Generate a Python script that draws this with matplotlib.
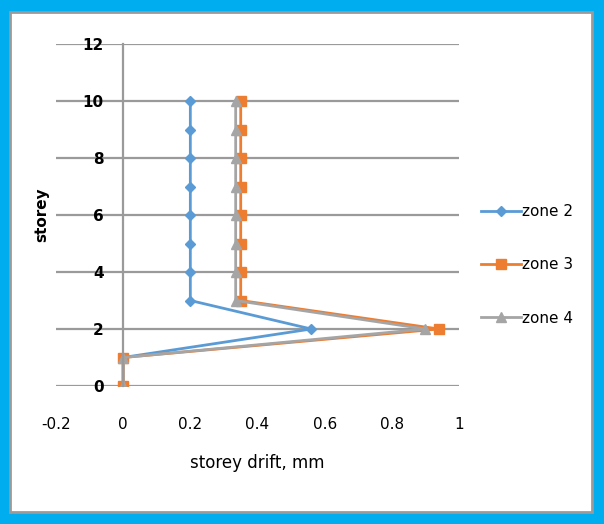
import matplotlib
matplotlib.use("Agg")
import matplotlib.pyplot as plt
from matplotlib.patches import Rectangle
from matplotlib import font_manager

# storey drift per storey for each seismic zone
storeys = [0, 1, 2, 3, 4, 5, 6, 7, 8, 9, 10]
zone2 = [0, 0, 0.56, 0.2, 0.2, 0.2, 0.2, 0.2, 0.2, 0.2, 0.2]
zone3 = [0, 0, 0.94, 0.35, 0.35, 0.35, 0.35, 0.35, 0.35, 0.35, 0.35]
zone4 = [0, 0, 0.9, 0.335, 0.335, 0.335, 0.335, 0.335, 0.335, 0.335, 0.335]
x_ticks = [-0.2, 0, 0.2, 0.4, 0.6, 0.8, 1]
x_labels = ["-0.2", "0", "0.2", "0.4", "0.6", "0.8", "1"]
y_ticks = [0, 2, 4, 6, 8, 10, 12]

names = [f.name for f in font_manager.fontManager.ttflist]
fam = "Liberation Sans Narrow" if "Liberation Sans Narrow" in names else "DejaVu Sans"
plt.rcParams['font.family'] = [fam, "DejaVu Sans"]

fig = plt.figure(figsize=(6.04, 5.24), dpi=100)
fig.patch.set_facecolor("#00AEEF")
fig.patches.append(Rectangle((10 / 604, 12 / 524), 582 / 604, 500 / 524,
                             transform=fig.transFigure, facecolor="white",
                             edgecolor="#9a9a9a", linewidth=2, zorder=-5))

ax = fig.add_axes([56 / 604, 1 - 386 / 524, 403 / 604, 342 / 524])
ax.set_facecolor("none")

ax.plot(zone2, storeys, color="#5B9BD5", marker="D", markersize=5, linewidth=2, label="zone 2")
ax.plot(zone3, storeys, color="#ED7D31", marker="s", markersize=7, linewidth=2, label="zone 3")
ax.plot(zone4, storeys, color="#A5A5A5", marker="^", markersize=7, linewidth=2, label="zone 4")

ax.set_xlim(-0.2, 1)
ax.set_ylim(0, 12)
ax.set_xticks(x_ticks)
ax.set_xticklabels(x_labels)
ax.set_yticks(y_ticks)
ax.grid(axis="y", color="#9a9a9a", linewidth=1.6, zorder=0)
ax.set_axisbelow(True)

for s in ["top", "right", "bottom"]:
    ax.spines[s].set_visible(False)
ax.spines["left"].set_position(("data", 0))
ax.spines["left"].set_color("#9a9a9a")
ax.spines["left"].set_linewidth(1.6)
ax.tick_params(axis="x", length=0, pad=22, labelsize=11)
ax.tick_params(axis="y", length=0, pad=14, labelsize=11)
for t in ax.get_yticklabels():
    t.set_fontweight("bold")

ax.set_xlabel("storey drift, mm", fontsize=12, labelpad=16)
fig.text(42 / 604, 1 - 215 / 524, "storey", rotation=90, fontsize=11,
         fontweight="bold", ha="center", va="center")

ax.legend(loc="center left", bbox_to_anchor=(1.04, 0.354), frameon=False,
          fontsize=11, labelspacing=2.5, handlelength=2.6, handletextpad=0.1,
          borderaxespad=0)

plt.savefig("out.png", dpi=100, facecolor=fig.get_facecolor())
